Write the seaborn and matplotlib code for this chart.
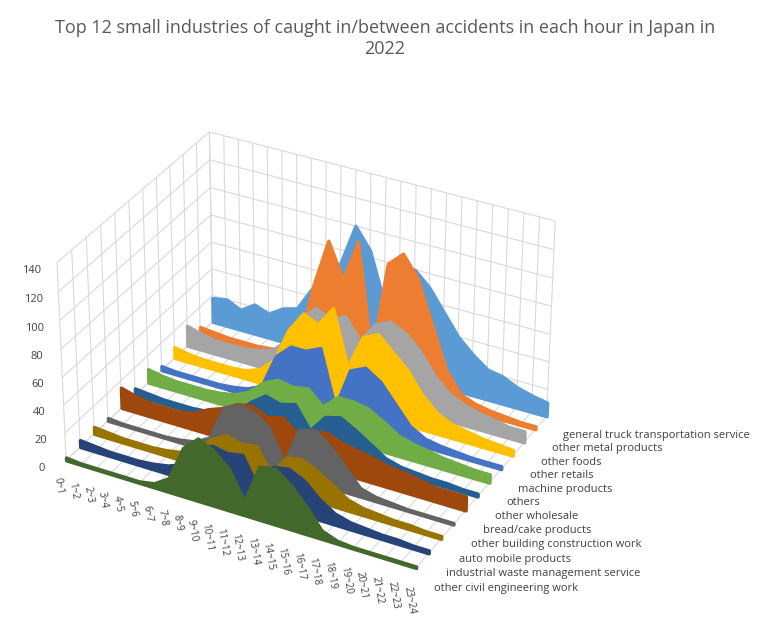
import seaborn as sns
import numpy as np
import matplotlib.pyplot as plt
from mpl_toolkits.mplot3d.art3d import PolyCollection

hours = [f"{h}~{h+1}" for h in range(24)]

# front to back
industries = ["other civil engineering work", "industrial waste management service",
              "auto mobile products", "other building construction work",
              "bread/cake products", "other wholesale", "others", "machine products",
              "other retails", "other foods", "other metal products",
              "general truck transportation service"]
civil = [2, 1, 1, 1, 1, 1, 3, 10, 35, 45, 40, 30, 10, 38, 40, 32, 20, 6, 2, 1, 1, 1, 1, 1]
waste = [5, 4, 3, 3, 3, 4, 6, 10, 25, 30, 28, 30, 10, 28, 30, 25, 15, 8, 5, 4, 3, 3, 2, 2]
auto = [5, 4, 3, 3, 3, 4, 6, 10, 22, 28, 25, 27, 10, 25, 27, 22, 15, 8, 5, 4, 3, 3, 2, 2]
building = [2, 1, 1, 1, 1, 2, 4, 10, 35, 40, 38, 30, 8, 35, 38, 30, 18, 6, 3, 2, 1, 1, 1, 1]
bread = [15, 12, 10, 10, 10, 12, 18, 22, 28, 30, 25, 28, 20, 25, 26, 22, 20, 18, 15, 14, 12, 10, 10, 10]
wholesale = [5, 4, 3, 3, 3, 4, 6, 10, 20, 28, 25, 28, 12, 25, 28, 22, 15, 8, 5, 4, 3, 3, 2, 2]
others = [10, 8, 7, 7, 7, 8, 10, 15, 25, 30, 28, 30, 20, 30, 30, 28, 22, 15, 12, 10, 8, 7, 6, 6]
machine = [3, 2, 2, 2, 2, 3, 5, 10, 35, 45, 45, 50, 10, 40, 45, 38, 25, 12, 6, 4, 3, 2, 2, 2]
retails = [8, 6, 5, 5, 5, 6, 10, 20, 45, 60, 55, 70, 30, 55, 60, 50, 40, 25, 15, 10, 8, 6, 5, 4]
foods = [15, 12, 10, 10, 10, 12, 15, 25, 45, 55, 50, 55, 40, 55, 60, 55, 45, 30, 20, 15, 12, 10, 8, 8]
metal = [5, 4, 3, 3, 3, 4, 6, 15, 60, 95, 70, 100, 20, 90, 100, 85, 55, 25, 10, 6, 4, 3, 2, 2]
truck = [18, 20, 15, 22, 18, 25, 28, 45, 55, 70, 100, 85, 50, 75, 80, 70, 55, 40, 30, 22, 20, 15, 12, 10]
series = [civil, waste, auto, building, bread, wholesale, others, machine,
          retails, foods, metal, truck]
colors = ["#43682B", "#264478", "#997300", "#636363", "#9E480E", "#255E91",
          "#70AD47", "#4472C4", "#FFC000", "#A5A5A5", "#ED7D31", "#5B9BD5"]

sns.set_theme(style="white")
plt.rcParams['font.family'] = ['Open Sans', 'DejaVu Sans']

fig = plt.figure(figsize=(7.7, 6.25), dpi=100)
ax = fig.add_axes([-0.11, -0.06, 1.0, 1.0], projection="3d", computed_zorder=False)
x = np.arange(len(hours))
n = len(series)
for i in range(n):
    vals = np.array(series[i], dtype=float)
    verts = [[(x[0], 0)] + list(zip(x, vals)) + [(x[-1], 0)]]
    poly = PolyCollection(verts, facecolors=colors[i], edgecolors=colors[i],
                          linewidths=2.5)
    poly.set_zorder(10 + n - i)
    ax.add_collection3d(poly, zs=i, zdir="y")

ax.set_xlim(0, 23)
ax.set_ylim(0, 11)
ax.set_zlim(0, 140)
ax.set_xticks(x)
ax.set_xticklabels(hours, rotation=-80, fontsize=7, color="#404040")
ax.set_yticks(range(12))
ax.set_yticklabels(industries, fontsize=8, color="#404040", ha="left")
ax.set_zticks(range(0, 141, 20))
ax.tick_params(axis="z", labelsize=8, colors="#404040")
ax.tick_params(axis="both", length=0)
for a in (ax.xaxis, ax.yaxis, ax.zaxis):
    a.pane.fill = False
    a.pane.set_edgecolor("none")
    a.line.set_color("none")
    a._axinfo["grid"]["color"] = "#d9d9d9"
    a._axinfo["grid"]["linewidth"] = 0.8
    a._axinfo["tick"]["inward_factor"] = 0
    a._axinfo["tick"]["outward_factor"] = 0
ax.zaxis.set_ticks_position("lower")
ax.view_init(elev=32, azim=-62)
ax.set_box_aspect((1.7, 1.3, 1.0), zoom=0.85)
fig.suptitle("Top 12 small industries of caught in/between accidents in each hour in Japan in\n2022",
             fontsize=13, color="#595959", y=0.97)
fig.savefig("out.png")
